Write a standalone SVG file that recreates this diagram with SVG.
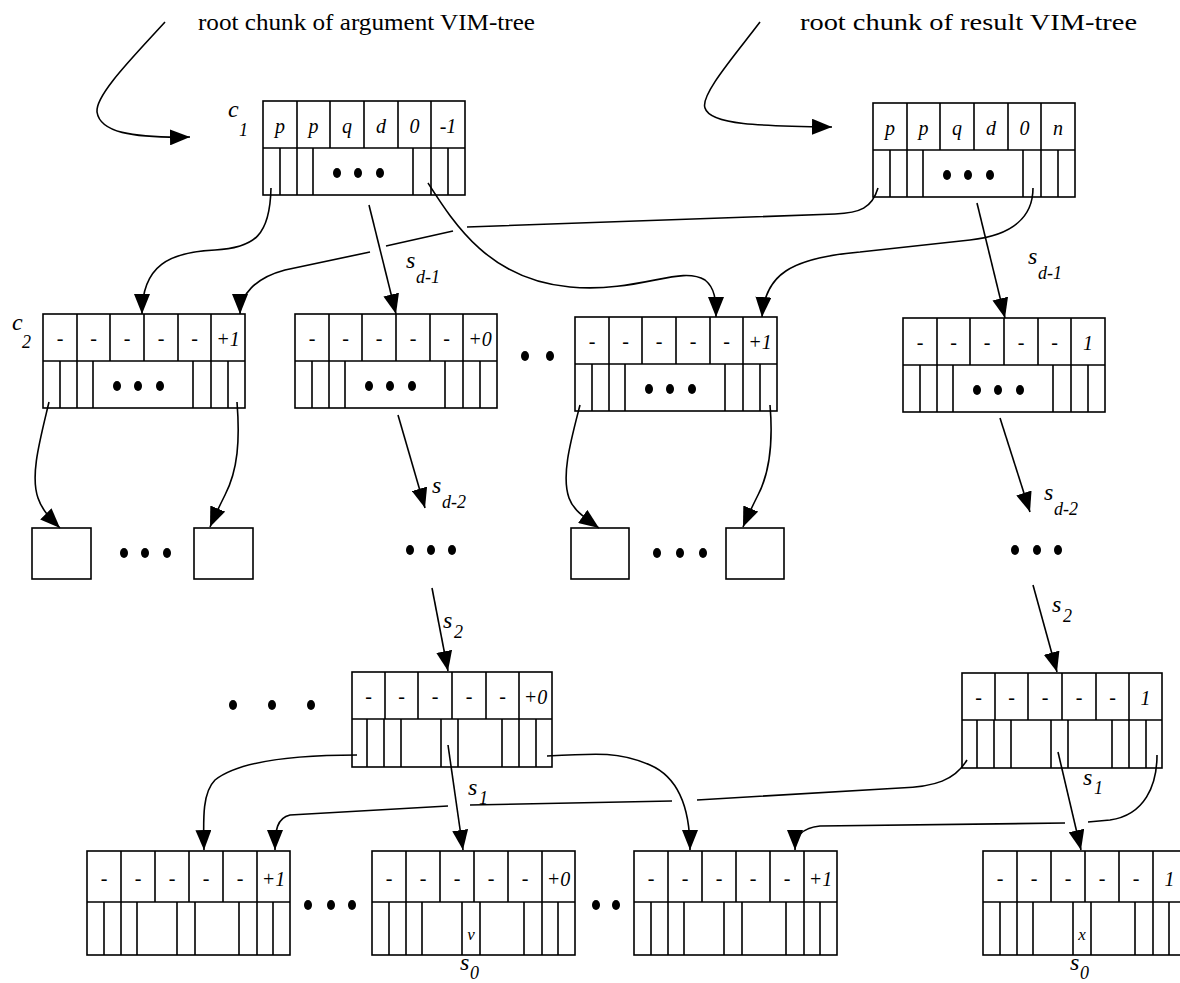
<svg xmlns="http://www.w3.org/2000/svg" xmlns:xlink="http://www.w3.org/1999/xlink" width="1180" height="983" viewBox="0 0 1180 983">
<style>
.f{fill:none;stroke:#000;stroke-width:1.6}
.c{fill:none;stroke:#000;stroke-width:1.6}
.dot{fill:#000}
.t{font-family:"Liberation Serif",serif;font-style:italic;font-size:20px;text-anchor:middle;fill:#000}
.h{font-family:"Liberation Serif",serif;font-size:24px;fill:#000}
.s{font-family:"Liberation Serif",serif;font-style:italic;font-size:24px;fill:#000}
.sub{font-family:"Liberation Serif",serif;font-style:italic;font-size:18px;fill:#000}
</style>
<defs>
<marker id="ah" viewBox="0 0 20 16" refX="20" refY="8" markerWidth="20" markerHeight="16" markerUnits="userSpaceOnUse" orient="auto"><path d="M0,0 L20,8 L0,16 z" fill="#000"/></marker>
<g id="frameA">
<rect class="f" x="0" y="0" width="202" height="94"/>
<path class="f" d="M0,47H202M34,0V47M67,0V47M101,0V47M135,0V47M168,0V47M17,47V94M34,47V94M50,47V94M150,47V94M168,47V94M185,47V94"/>
<ellipse class="dot" cx="74" cy="72" rx="4" ry="5"/><ellipse class="dot" cx="95" cy="72" rx="4" ry="5"/><ellipse class="dot" cx="117" cy="72" rx="4" ry="5"/>
</g>
<g id="frameB">
<rect class="f" x="0" y="0" width="200" height="95"/>
<path class="f" d="M0,47H200M33,0V47M66,0V47M100,0V47M134,0V47M167,0V47M15,47V95M32,47V95M49,47V95M89,47V95M106,47V95M150,47V95M167,47V95M184,47V95"/>
</g>
<g id="frameC">
<rect class="f" x="0" y="0" width="203" height="104"/>
<path class="f" d="M0,51H203M34,0V51M68,0V51M102,0V51M136,0V51M170,0V51M17,51V104M34,51V104M50,51V104M90,51V104M108,51V104M152,51V104M170,51V104M186,51V104"/>
</g>
</defs>
<rect x="0" y="0" width="1180" height="983" fill="#fff"/>

<g id="titles">
<text class="h" x="198" y="30" textLength="337" lengthAdjust="spacingAndGlyphs">root chunk of argument VIM-tree</text>
<text class="h" x="800" y="30" textLength="337" lengthAdjust="spacingAndGlyphs">root chunk of result VIM-tree</text>
</g>

<g id="c1">
<use xlink:href="#frameA" x="263" y="101"/>
<text class="s" x="228" y="117">c</text><text class="sub" x="239" y="136">1</text>
<g class="t"><text x="280" y="133">p</text><text x="313.5" y="133">p</text><text x="347" y="133">q</text><text x="381" y="133">d</text><text x="414.5" y="133">0</text><text x="448" y="133">-1</text></g>
</g>
<g id="root2">
<use xlink:href="#frameA" x="873" y="103"/>
<g class="t"><text x="890" y="135">p</text><text x="923.5" y="135">p</text><text x="957" y="135">q</text><text x="991" y="135">d</text><text x="1024.5" y="135">0</text><text x="1058" y="135">n</text></g>
</g>

<g id="c2">
<use xlink:href="#frameA" x="43" y="314"/>
<text class="s" x="12" y="330">c</text><text class="sub" x="22" y="348">2</text>
<g class="t"><text x="60" y="345">-</text><text x="93.5" y="345">-</text><text x="127" y="345">-</text><text x="161" y="345">-</text><text x="194.5" y="345">-</text><text x="228" y="346">+1</text></g>
</g>
<g id="l2b">
<use xlink:href="#frameA" x="295" y="314"/>
<g class="t"><text x="312" y="345">-</text><text x="345.5" y="345">-</text><text x="379" y="345">-</text><text x="413" y="345">-</text><text x="446.5" y="345">-</text><text x="480" y="346">+0</text></g>
</g>
<g id="l2c">
<use xlink:href="#frameA" x="575" y="317"/>
<g class="t"><text x="592" y="348">-</text><text x="625.5" y="348">-</text><text x="659" y="348">-</text><text x="693" y="348">-</text><text x="726.5" y="348">-</text><text x="760" y="349">+1</text></g>
</g>
<g id="l2d">
<use xlink:href="#frameA" x="903" y="318"/>
<g class="t"><text x="920" y="349">-</text><text x="953.5" y="349">-</text><text x="987" y="349">-</text><text x="1021" y="349">-</text><text x="1054.5" y="349">-</text><text x="1088" y="350">1</text></g>
</g>

<g id="squares">
<rect class="f" x="32" y="528" width="59" height="51"/>
<rect class="f" x="194" y="528" width="59" height="51"/>
<rect class="f" x="571" y="528" width="58" height="51"/>
<rect class="f" x="726" y="528" width="58" height="51"/>
</g>

<g id="l4a">
<use xlink:href="#frameB" x="352" y="672"/>
<g class="t"><text x="368.5" y="703">-</text><text x="401.5" y="703">-</text><text x="435" y="703">-</text><text x="469" y="703">-</text><text x="502.5" y="703">-</text><text x="535.5" y="704">+0</text></g>
</g>
<g id="l4b">
<use xlink:href="#frameB" x="962" y="673"/>
<g class="t"><text x="978.5" y="704">-</text><text x="1011.5" y="704">-</text><text x="1045" y="704">-</text><text x="1079" y="704">-</text><text x="1112.5" y="704">-</text><text x="1145.5" y="705">1</text></g>
</g>

<g id="b1">
<use xlink:href="#frameC" x="87" y="851"/>
<g class="t"><text x="104" y="885">-</text><text x="138" y="885">-</text><text x="172" y="885">-</text><text x="206" y="885">-</text><text x="240" y="885">-</text><text x="273.5" y="886">+1</text></g>
</g>
<g id="b2">
<use xlink:href="#frameC" x="372" y="851"/>
<g class="t"><text x="389" y="885">-</text><text x="423" y="885">-</text><text x="457" y="885">-</text><text x="491" y="885">-</text><text x="525" y="885">-</text><text x="558.5" y="886">+0</text><text x="471" y="940" font-size="17">v</text></g>
</g>
<g id="b3">
<use xlink:href="#frameC" x="634" y="851"/>
<g class="t"><text x="651" y="885">-</text><text x="685" y="885">-</text><text x="719" y="885">-</text><text x="753" y="885">-</text><text x="787" y="885">-</text><text x="820.5" y="886">+1</text></g>
</g>
<g id="b4">
<use xlink:href="#frameC" x="983" y="851"/>
<g class="t"><text x="1000" y="885">-</text><text x="1034" y="885">-</text><text x="1068" y="885">-</text><text x="1102" y="885">-</text><text x="1136" y="885">-</text><text x="1169.5" y="886">1</text><text x="1082" y="940" font-size="17">x</text></g>
</g>

<g id="ellipses">
<ellipse class="dot" cx="525" cy="356" rx="4" ry="5"/><ellipse class="dot" cx="550" cy="356" rx="4" ry="5"/>
<ellipse class="dot" cx="124" cy="553" rx="4" ry="5"/><ellipse class="dot" cx="145" cy="553" rx="4" ry="5"/><ellipse class="dot" cx="167" cy="553" rx="4" ry="5"/>
<ellipse class="dot" cx="410" cy="550" rx="4" ry="5"/><ellipse class="dot" cx="431" cy="550" rx="4" ry="5"/><ellipse class="dot" cx="452" cy="550" rx="4" ry="5"/>
<ellipse class="dot" cx="657" cy="553" rx="4" ry="5"/><ellipse class="dot" cx="680" cy="553" rx="4" ry="5"/><ellipse class="dot" cx="703" cy="553" rx="4" ry="5"/>
<ellipse class="dot" cx="1015" cy="550" rx="4" ry="5"/><ellipse class="dot" cx="1037" cy="550" rx="4" ry="5"/><ellipse class="dot" cx="1058" cy="550" rx="4" ry="5"/>
<ellipse class="dot" cx="233" cy="705" rx="4" ry="5"/><ellipse class="dot" cx="272" cy="705" rx="4" ry="5"/><ellipse class="dot" cx="311" cy="705" rx="4" ry="5"/>
<ellipse class="dot" cx="308" cy="905" rx="4" ry="5"/><ellipse class="dot" cx="331" cy="905" rx="4" ry="5"/><ellipse class="dot" cx="352" cy="905" rx="4" ry="5"/>
<ellipse class="dot" cx="596" cy="905" rx="4" ry="5"/><ellipse class="dot" cx="616" cy="905" rx="4" ry="5"/>
</g>

<g id="connectors">
<path class="c" marker-end="url(#ah)" d="M165,22 C135,55 95,95 97,112 C100,132 130,138 190,137"/>
<path class="c" marker-end="url(#ah)" d="M760,22 C735,55 700,95 705,108 C710,125 760,126 832,127"/>
<path class="c" marker-end="url(#ah)" d="M271,188 C270,235 255,248 215,250 C170,252 142,265 142,314"/>
<path class="c" marker-end="url(#ah)" d="M428,183 C455,225 490,280 570,287 C640,293 680,265 705,280 C715,288 716,300 716,317"/>
<path class="c" d="M878,188 C872,208 860,213 835,214 L467,227"/>
<path class="c" d="M453,231 L386,246"/>
<path class="c" marker-end="url(#ah)" d="M370,252 L285,270 C255,278 240,295 240,314"/>
<path class="c" marker-end="url(#ah)" d="M1033,188 C1033,215 1015,235 970,240 L860,252 C790,258 765,275 762,317"/>
<path class="c" marker-end="url(#ah)" d="M369,205 L396,314"/>
<path class="c" marker-end="url(#ah)" d="M977,203 L1005,318"/>
<path class="c" marker-end="url(#ah)" d="M49,402 C40,440 30,475 38,498 C42,510 50,518 60,528"/>
<path class="c" marker-end="url(#ah)" d="M237,402 C240,440 238,470 225,495 C220,505 215,515 210,527"/>
<path class="c" marker-end="url(#ah)" d="M580,405 C571,440 561,475 569,498 C573,510 585,518 599,528"/>
<path class="c" marker-end="url(#ah)" d="M770,405 C773,440 771,470 758,495 C753,505 748,515 743,527"/>
<path class="c" marker-end="url(#ah)" d="M398,415 L425,508"/>
<path class="c" marker-end="url(#ah)" d="M1000,418 L1030,512"/>
<path class="c" marker-end="url(#ah)" d="M432,588 L448,671"/>
<path class="c" marker-end="url(#ah)" d="M1033,585 L1057,672"/>
<path class="c" marker-end="url(#ah)" d="M357,755 C300,755 240,760 215,780 C203,792 203,815 204,850"/>
<path class="c" marker-end="url(#ah)" d="M547,756 C600,753 620,752 650,765 C680,778 690,810 690,850"/>
<path class="c" marker-end="url(#ah)" d="M448,745 L463,850"/>
<path class="c" d="M967,760 C955,780 935,787 900,788 L697,800"/>
<path class="c" d="M672,801 L470,805"/>
<path class="c" marker-end="url(#ah)" d="M448,806 L290,815 C277,818 275,830 275,850"/>
<path class="c" d="M1157,755 C1157,785 1145,815 1110,820 L1088,822"/>
<path class="c" marker-end="url(#ah)" d="M1065,823 L820,826 C800,828 795,838 795,850"/>
<path class="c" marker-end="url(#ah)" d="M1058,752 L1081,850"/>
</g>

<g id="labels">
<text class="s" x="406" y="268">s</text><text class="sub" x="416" y="283">d-1</text>
<text class="s" x="1028" y="264">s</text><text class="sub" x="1038" y="279">d-1</text>
<text class="s" x="432" y="493">s</text><text class="sub" x="442" y="508">d-2</text>
<text class="s" x="1044" y="500">s</text><text class="sub" x="1054" y="515">d-2</text>
<text class="s" x="443" y="628">s</text><text class="sub" x="454" y="638">2</text>
<text class="s" x="1052" y="612">s</text><text class="sub" x="1063" y="622">2</text>
<text class="s" x="468" y="795">s</text><text class="sub" x="479" y="804">1</text>
<text class="s" x="1083" y="785">s</text><text class="sub" x="1094" y="794">1</text>
<text class="s" x="460" y="970">s</text><text class="sub" x="470" y="979">0</text>
<text class="s" x="1070" y="970">s</text><text class="sub" x="1080" y="979">0</text>
</g>
</svg>
